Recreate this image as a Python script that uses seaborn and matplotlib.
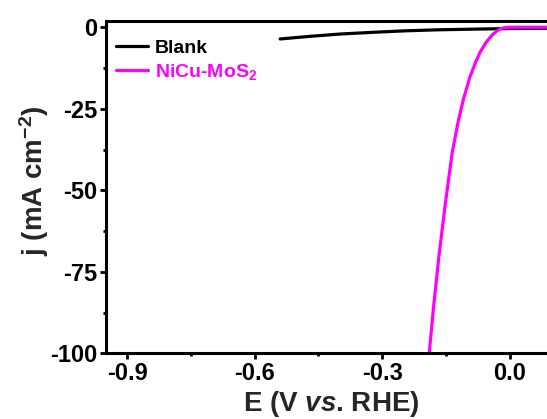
import numpy as np
import pandas as pd
import matplotlib
matplotlib.use("Agg")
import matplotlib.pyplot as plt
import seaborn as sns
from matplotlib.ticker import MultipleLocator

# ---- data ----
blank_E = [-0.54, -0.47, -0.40, -0.32, -0.245, -0.17, -0.088, -0.02, 0.05, 0.10]
blank_j = [-3.6, -2.8, -2.1, -1.55, -1.1, -0.8, -0.6, -0.45, -0.35, -0.3]

nicu_E = [-0.189, -0.179, -0.166, -0.151, -0.135, -0.121, -0.109, -0.093, -0.080,
          -0.069, -0.055, -0.041, -0.030, -0.022, -0.012, 0.0, 0.10]
nicu_j = [-100, -86, -70, -54, -38.5, -29, -22.3, -15.2, -10.8,
          -7.6, -4.6, -2.4, -1.2, -0.5, -0.15, 0.0, 0.0]

series_labels = ["Blank", "NiCu-MoS$_2$"]
series_colors = ["#000000", "#ff00ff"]
x_ticks = [-0.9, -0.6, -0.3, 0.0]
y_ticks = [0, -25, -50, -75, -100]

sns.set_theme(style="ticks")
plt.rcParams["font.family"] = ["Liberation Sans", "DejaVu Sans"]
plt.rcParams["font.weight"] = "bold"
plt.rcParams["mathtext.fontset"] = "custom"
plt.rcParams["mathtext.rm"] = "Liberation Sans:bold"
plt.rcParams["mathtext.bf"] = "Liberation Sans:bold"
plt.rcParams["mathtext.it"] = "Liberation Sans:bold:italic"
plt.rcParams["mathtext.sf"] = "Liberation Sans:bold"
plt.rcParams["axes.unicode_minus"] = False

fig = plt.figure(figsize=(5.47, 4.19), dpi=100)
W, H = 547, 419
left, right, bottom, top = 106, 552, 353.3, 20.7
ax = fig.add_axes([left / W, 1 - bottom / H, (right - left) / W, (bottom - top) / H])

df_b = pd.DataFrame({"E": blank_E, "j": blank_j})
df_n = pd.DataFrame({"E": nicu_E, "j": nicu_j})
sns.lineplot(data=df_b, x="E", y="j", ax=ax, color=series_colors[0], lw=2.3,
             label=series_labels[0], sort=False)
sns.lineplot(data=df_n, x="E", y="j", ax=ax, color=series_colors[1], lw=2.3,
             label=series_labels[1], sort=False)

ax.set_xlim(-0.95, 0.1)
ax.set_ylim(-100, 2)
ax.set_xticks(x_ticks)
ax.set_yticks(y_ticks)
ax.set_xticklabels(["-0.9", "-0.6", "-0.3", "0.0"])
ax.set_yticklabels([str(v) for v in y_ticks])
ax.xaxis.set_minor_locator(MultipleLocator(0.15))
ax.yaxis.set_minor_locator(MultipleLocator(12.5))

for s in ax.spines.values():
    s.set_linewidth(2.2)
    s.set_color("black")
ax.tick_params(axis="both", which="major", direction="out", length=4.5, width=2,
               labelsize=17, pad=2, colors="black")
ax.tick_params(axis="both", which="minor", direction="out", length=2.5, width=2,
               colors="black")
for lab in ax.get_xticklabels() + ax.get_yticklabels():
    lab.set_fontweight("bold")

ax.set_xlabel(r"E (V $\mathit{vs}$. RHE)", fontsize=20, fontweight="bold")
ax.set_ylabel(r"j (mA cm$^{-2}$)", fontsize=20, fontweight="bold")
ax.xaxis.set_label_coords(0.5056, -0.106)
ax.yaxis.set_label_coords(-0.123, 0.518)

leg = ax.legend(loc="upper left", bbox_to_anchor=(0.022, 0.943), frameon=False,
                handlelength=1.65, handletextpad=0.36, borderpad=0,
                borderaxespad=0, labelspacing=0.25, labelcolor="linecolor",
                prop={"weight": "bold", "size": 14})
for line in leg.get_lines():
    line.set_linewidth(2.3)

fig.savefig("out.png", dpi=100)
